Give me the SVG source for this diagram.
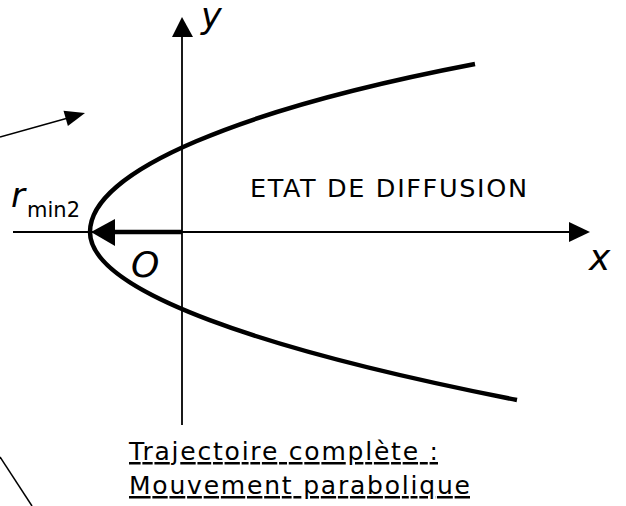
<svg xmlns="http://www.w3.org/2000/svg" width="626" height="506" viewBox="0 0 626 506">
  <style>
    .axis { stroke: #000; stroke-width: 1.8; fill: none; }
    .thin { stroke: #000; stroke-width: 1.5; fill: none; }
    .curve { stroke: #000; stroke-width: 4.5; fill: none; stroke-linecap: butt; }
    .head { fill: #000; stroke: none; }
    .it { font-family: "DejaVu Sans", "Liberation Sans", sans-serif; font-style: italic; fill: #000; }
    .lbl { font-family: "DejaVu Sans", "Liberation Sans", sans-serif; fill: #000; }
  </style>
  <rect width="626" height="506" fill="#fff"/>
  <g id="connectors">
    <line class="axis" x1="182" y1="36" x2="182" y2="425"/>
    <polygon class="head" points="182,17 172,37 193,37"/>
    <line class="axis" x1="13" y1="232" x2="570" y2="232"/>
    <polygon class="head" points="590,232 569,222 569,242"/>
    <line x1="182" y1="232" x2="113" y2="232" stroke="#000" stroke-width="4.5"/>
    <polygon class="head" points="91,232 115,219 115,246"/>
    <line class="thin" x1="0" y1="137" x2="68" y2="118"/>
    <polygon class="head" points="85,113 63.5,110.7 67.9,126.1"/>
    <line class="thin" x1="0" y1="457" x2="32" y2="506"/>
  </g>
  <g id="trajectory">
    <path class="curve" d="M475,64 C245,108 90,170 90,232 C90,292 267,351 517,400"/>
  </g>
  <g id="label-y"><text class="it" x="201" y="28" font-size="35">y</text></g>
  <g id="label-x"><text class="it" x="589" y="270" font-size="36">x</text></g>
  <g id="label-O"><text class="it" x="131" y="277" font-size="36">O</text></g>
  <g id="label-rmin2">
    <text class="it" x="11" y="207" font-size="34">r</text>
    <text class="lbl" x="27" y="217" font-size="21" textLength="53" lengthAdjust="spacing">min2</text>
  </g>
  <g id="label-etat">
    <text class="lbl" x="250" y="197" font-size="25.5" textLength="277" lengthAdjust="spacing">ETAT DE DIFFUSION</text>
  </g>
  <g id="caption">
    <text class="lbl" x="129" y="460" font-size="25" textLength="309" lengthAdjust="spacing" text-decoration="underline">Trajectoire complète :</text>
    <text class="lbl" x="129" y="494" font-size="25" textLength="341" lengthAdjust="spacing" text-decoration="underline">Mouvement parabolique</text>
  </g>
</svg>
